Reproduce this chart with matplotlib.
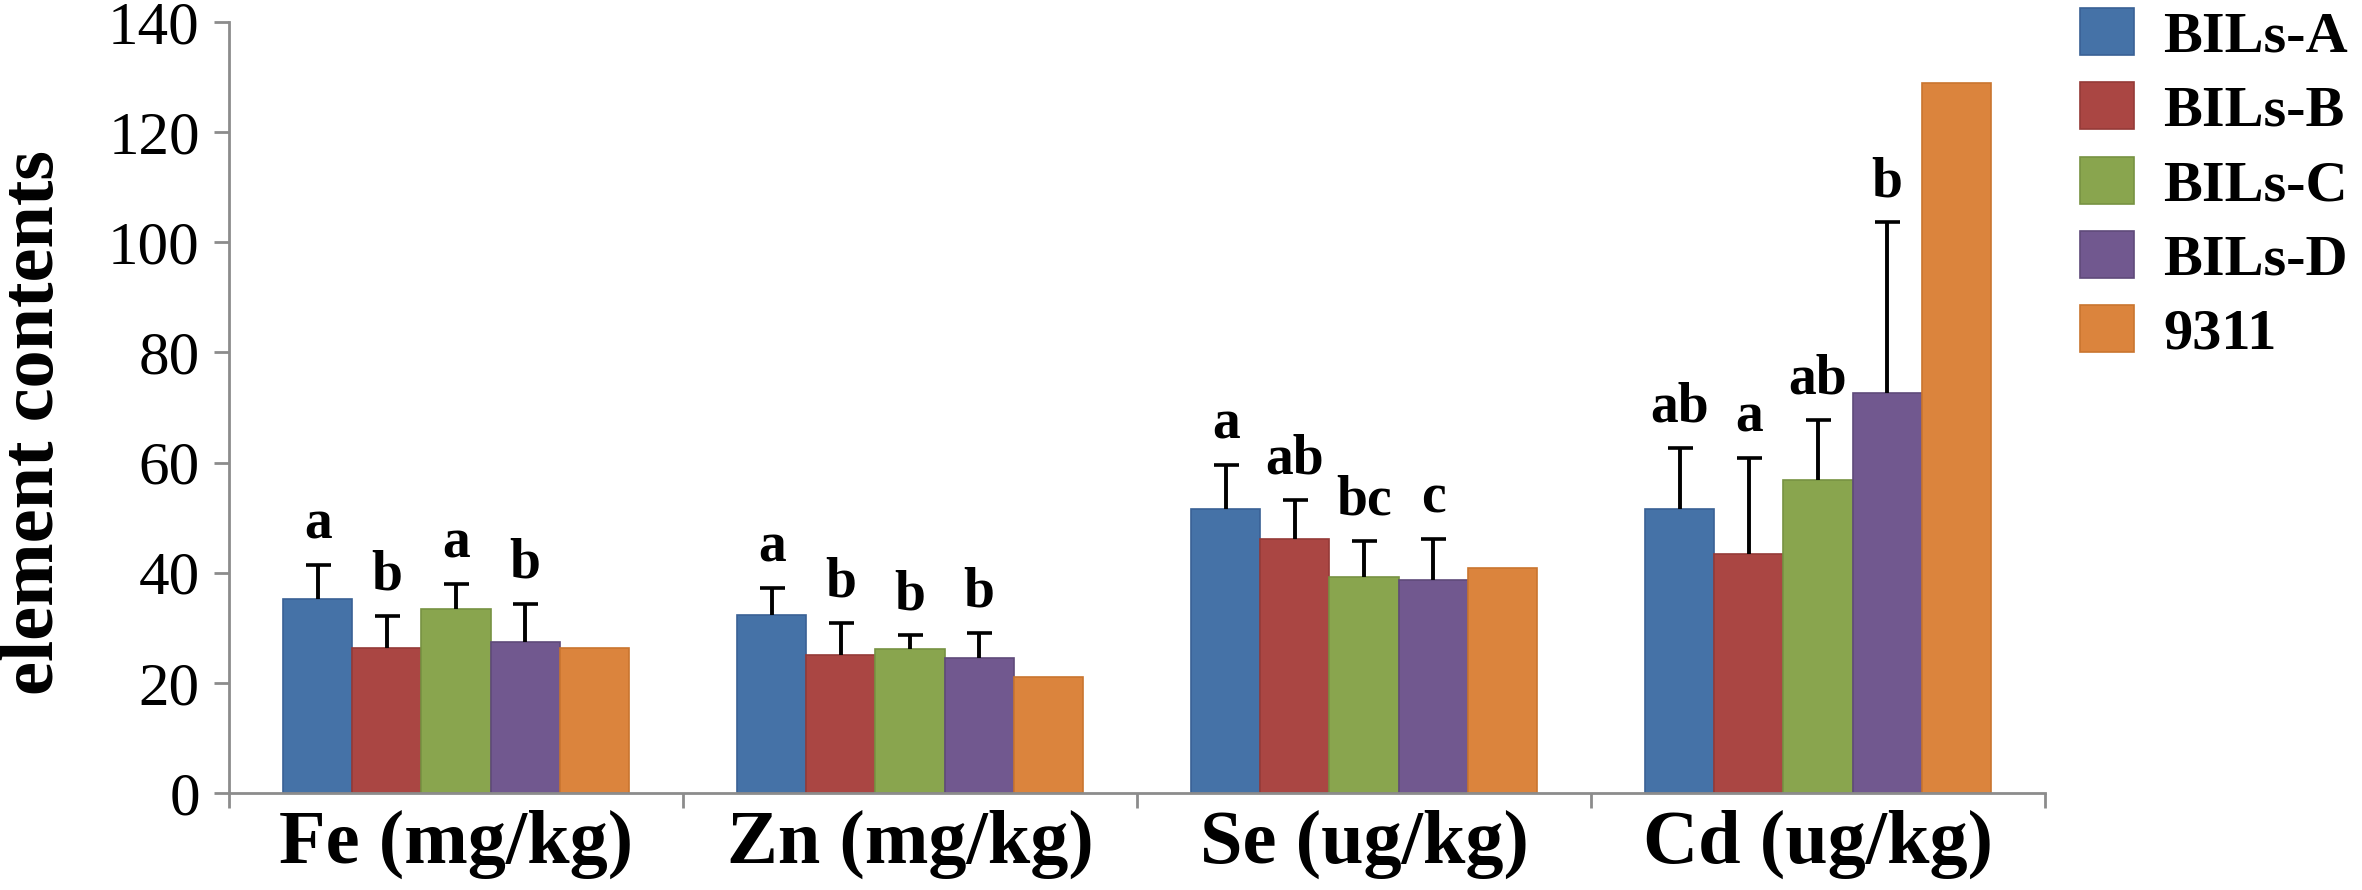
import numpy as np
import matplotlib
matplotlib.use("Agg")
import matplotlib.pyplot as plt
from matplotlib.ticker import FixedLocator

plt.rcParams['font.family'] = ['Liberation Serif', 'DejaVu Serif']

# data
elements = ['Fe (mg/kg)', 'Zn (mg/kg)', 'Se (ug/kg)', 'Cd (ug/kg)']
groups = ['BILs-A', 'BILs-B', 'BILs-C', 'BILs-D', '9311']
colors = ['#4572A7', '#AA4643', '#89A54E', '#71588F', '#DB843D']
edges = ['#3a6195', '#953a37', '#779242', '#5f4a7a', '#c9752f']

bils_a = [35.2, 32.3, 51.5, 51.5]
bils_b = [26.4, 25.1, 46.2, 43.4]
bils_c = [33.4, 26.2, 39.2, 56.9]
bils_d = [27.5, 24.6, 38.7, 72.7]
r9311 = [26.4, 21.0, 40.8, 129.0]

sd_a = [6.2, 5.0, 8.1, 11.1]
sd_b = [5.8, 5.8, 7.0, 17.5]
sd_c = [4.6, 2.4, 6.6, 10.9]
sd_d = [6.8, 4.5, 7.5, 30.9]

let_a = ['a', 'a', 'a', 'ab']
let_b = ['b', 'b', 'ab', 'a']
let_c = ['a', 'b', 'bc', 'ab']
let_d = ['b', 'b', 'c', 'b']

means = [bils_a, bils_b, bils_c, bils_d, r9311]
sds = [sd_a, sd_b, sd_c, sd_d, None]
letters = [let_a, let_b, let_c, let_d, None]

fig = plt.figure(figsize=(23.62, 8.9), dpi=100)
ax = fig.add_axes([229 / 2362, 1 - 793 / 890, (2045 - 229) / 2362, (793 - 22) / 890])

x = np.arange(len(elements))
w = 0.152
for i, g in enumerate(groups):
    pos = x + (i - 2) * w
    ax.bar(pos, means[i], w, color=colors[i], edgecolor=edges[i], linewidth=1.2,
           label=g, zorder=2)
    if sds[i] is not None:
        line, caps, bars = ax.errorbar(pos, means[i], yerr=[np.zeros(len(x)), sds[i]],
                                       fmt='none', ecolor='black', elinewidth=2.8,
                                       capsize=9, capthick=2.6, zorder=3)
        caps[0].set_visible(False)  # only the upper cap
        for p, m, s, t in zip(pos, means[i], sds[i], letters[i]):
            ax.annotate(t, (p, m + s), xytext=(0, 19), textcoords='offset points',
                        ha='center', va='baseline', fontsize=40, fontweight='bold')

ax.set_xlim(-0.5, 3.5)
ax.set_ylim(0, 140)
ax.set_yticks(np.arange(0, 141, 20))
ax.set_xticks(x)
ax.set_xticklabels(elements, fontsize=55, fontweight='bold')
ax.xaxis.set_minor_locator(FixedLocator(np.arange(-0.5, 4, 1)))
ax.tick_params(axis='x', which='major', length=0, pad=12)
ax.tick_params(axis='x', which='minor', length=11, width=2, color='#8c8c8c', direction='out')
ax.tick_params(axis='y', length=11, width=2, color='#8c8c8c', pad=10, labelsize=44)

for s in ['top', 'right']:
    ax.spines[s].set_visible(False)
for s in ['left', 'bottom']:
    ax.spines[s].set_color('#8c8c8c')
    ax.spines[s].set_linewidth(2)

ax.set_ylabel('element contents', fontsize=55, fontweight='bold')
ax.yaxis.set_label_coords(-0.088, 0.48)

fig.legend(loc='upper left', bbox_to_anchor=(2080 / 2362, 0.991), frameon=False,
           prop={'weight': 'bold', 'size': 42},
           handlelength=0.93, handleheight=0.86, handletextpad=0.5, labelspacing=0.32,
           borderaxespad=0, borderpad=0)

fig.savefig('out.png', dpi=100)
